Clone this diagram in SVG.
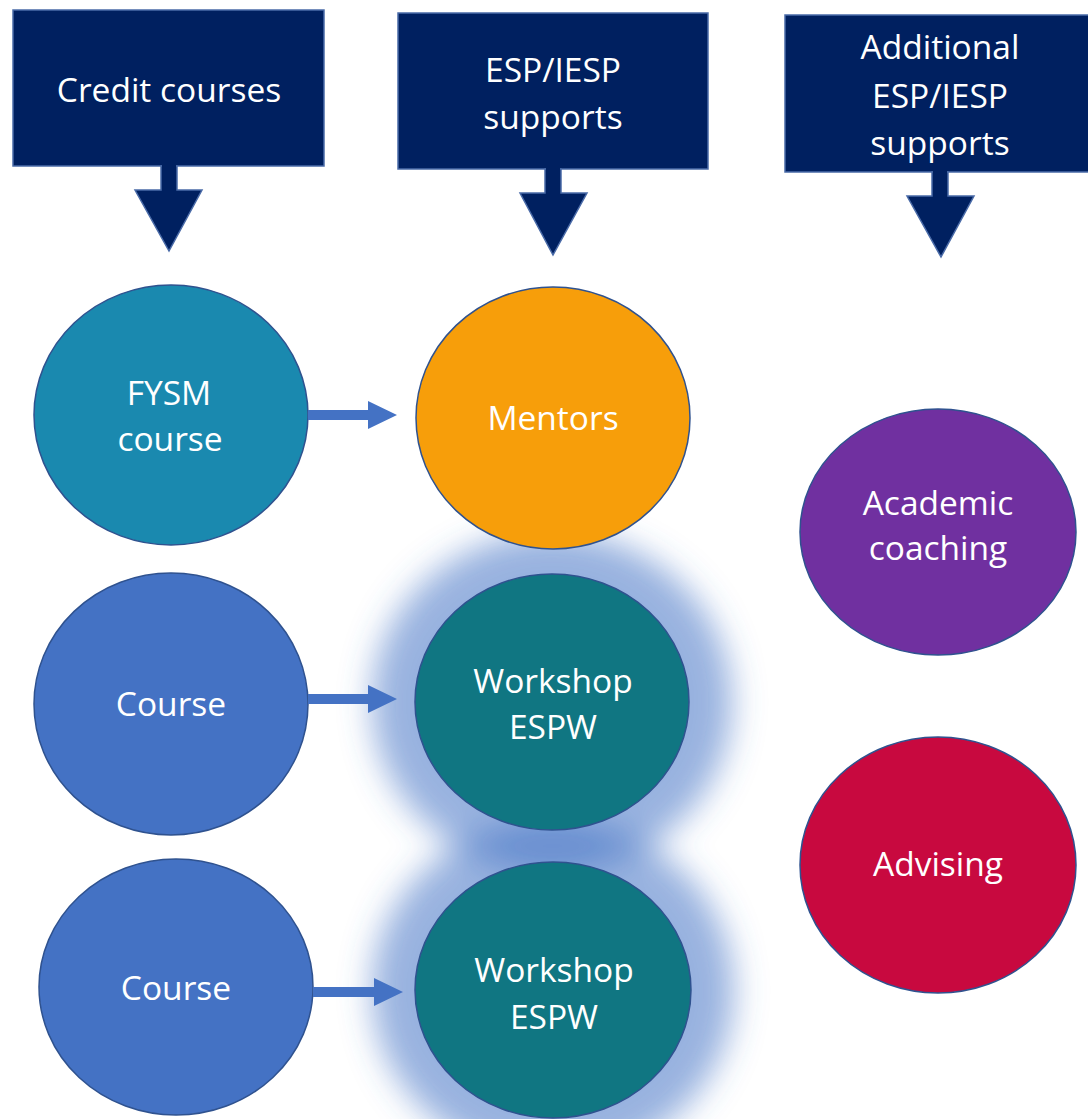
<svg xmlns="http://www.w3.org/2000/svg" width="1088" height="1119" viewBox="0 0 1088 1119">
<defs>
<style>
.box{fill:#002060;stroke:#4A6BA8;stroke-width:1.5}
.node{stroke:#2F528F;stroke-width:1.5}
.t{font-family:"Open Sans","Liberation Sans",Arial,sans-serif;font-size:33.5px;fill:#fff;text-anchor:middle}
.conn{fill:#4472C4}
</style>
<filter id="glow" x="-50%" y="-50%" width="200%" height="200%">
<feGaussianBlur stdDeviation="16"/>
</filter>
</defs>
<rect width="1088" height="1119" fill="#fff"/>

<g id="header-credit">
<rect class="box" x="13" y="10" width="311" height="156"/>
<path class="box" d="M161,166 V190 H135 L169,251 L202,190 H177 V166 Z"/>
<rect x="162" y="164" width="14" height="4" fill="#002060"/>
<text class="t" x="169" y="102">Credit courses</text>
</g>

<g id="header-esp">
<rect class="box" x="398" y="13" width="310" height="156"/>
<path class="box" d="M545,169 V193 H520 L553,255 L587,193 H561 V169 Z"/>
<rect x="546" y="167" width="14" height="4" fill="#002060"/>
<text class="t" x="553" y="82">ESP/IESP</text>
<text class="t" x="553" y="129">supports</text>
</g>

<g id="header-additional">
<rect class="box" x="785" y="15" width="305" height="157"/>
<path class="box" d="M932,172 V196 H907 L941,257 L974,196 H948 V172 Z"/>
<rect x="933" y="170" width="14" height="4" fill="#002060"/>
<text class="t" x="940" y="59">Additional</text>
<text class="t" x="940" y="108">ESP/IESP</text>
<text class="t" x="940" y="155">supports</text>
</g>

<g id="glows" filter="url(#glow)">
<ellipse cx="552" cy="702" rx="180" ry="170" fill="#4472C4" opacity="0.55"/>
<ellipse cx="553" cy="990" rx="181" ry="170" fill="#4472C4" opacity="0.55"/>
</g>

<g id="node-fysm">
<ellipse class="node" cx="171" cy="415" rx="137" ry="130" fill="#1A89AF"/>
<text class="t" x="169" y="405">FYSM</text>
<text class="t" x="170" y="451">course</text>
</g>

<g id="node-mentors">
<ellipse class="node" cx="553" cy="418" rx="137" ry="131" fill="#F79E0A"/>
<text class="t" x="553" y="430">Mentors</text>
</g>

<g id="node-academic">
<ellipse class="node" cx="938" cy="532" rx="138" ry="123" fill="#7030A0"/>
<text class="t" x="938" y="515">Academic</text>
<text class="t" x="938" y="560">coaching</text>
</g>

<g id="node-course1">
<ellipse class="node" cx="171" cy="704" rx="137" ry="131" fill="#4472C4"/>
<text class="t" x="171" y="716">Course</text>
</g>

<g id="node-workshop1">
<ellipse class="node" cx="552" cy="702" rx="137" ry="128" fill="#107682"/>
<text class="t" x="553" y="693">Workshop</text>
<text class="t" x="553" y="739">ESPW</text>
</g>

<g id="node-course2">
<ellipse class="node" cx="176" cy="987" rx="137" ry="128" fill="#4472C4"/>
<text class="t" x="176" y="1000">Course</text>
</g>

<g id="node-workshop2">
<ellipse class="node" cx="553" cy="990" rx="138" ry="128" fill="#107682"/>
<text class="t" x="554" y="982">Workshop</text>
<text class="t" x="554" y="1029">ESPW</text>
</g>

<g id="node-advising">
<ellipse class="node" cx="938" cy="865" rx="138" ry="128" fill="#C8093F"/>
<text class="t" x="938" y="876">Advising</text>
</g>

<g id="connectors">
<path class="conn" d="M308,410 H368 V401 L397,415 L368,429 V420 H308 Z"/>
<path class="conn" d="M308,694 H368 V685 L397,699 L368,713 V704 H308 Z"/>
<path class="conn" d="M313,987 H374 V978 L403,992 L374,1006 V997 H313 Z"/>
</g>
</svg>
